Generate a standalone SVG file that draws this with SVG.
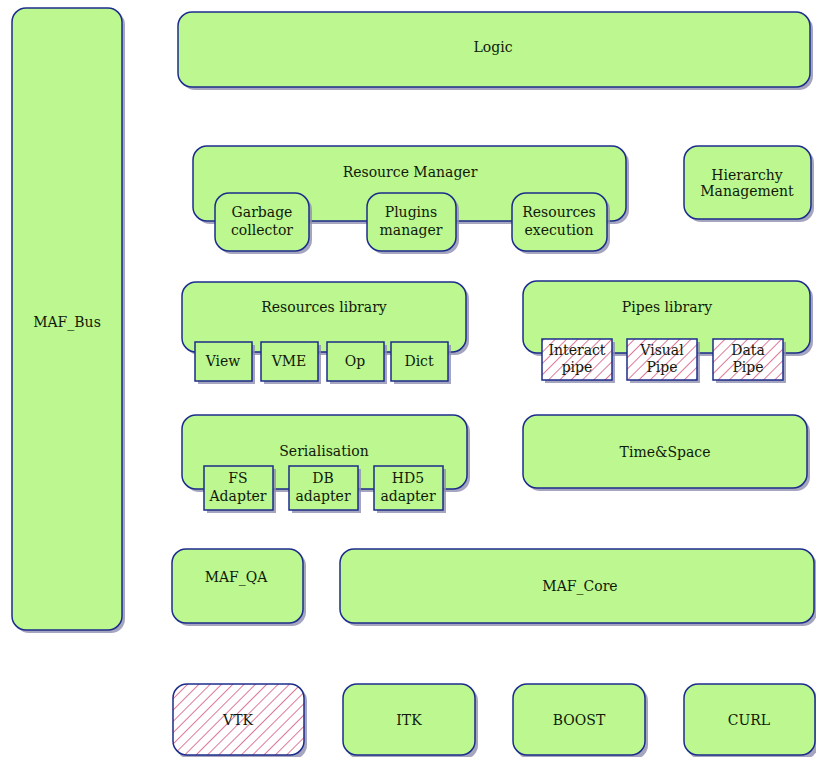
<svg xmlns="http://www.w3.org/2000/svg" width="816" height="757" viewBox="0 0 816 757">
  <defs>
    <pattern id="hatch" patternUnits="userSpaceOnUse" width="8" height="8" patternTransform="rotate(45)">
      <rect width="8" height="8" fill="#ffffff"/>
      <line x1="0" y1="0" x2="0" y2="8" stroke="#cc3060" stroke-width="1.3"/>
    </pattern>
    <style>
      .box { fill: #bcf78f; stroke: #1c2c8c; stroke-width: 1.5; }
      .hat { fill: url(#hatch); stroke: #1c2c8c; stroke-width: 1.5; }
      .sh { fill: #8f8faf; opacity: 0.8; }
      text { font-family: "DejaVu Serif", "Liberation Serif", serif; font-size: 14px; fill: #101a0a; text-anchor: middle; }
    </style>
  </defs>
  <rect width="816" height="757" fill="#ffffff"/>

  <g id="maf_bus">
    <rect class="sh" x="15" y="11" width="110" height="622" rx="14"/>
    <rect class="box" x="12" y="8" width="110" height="622" rx="14"/>
    <text x="67" y="327">MAF_Bus</text>
  </g>

  <g id="logic">
    <rect class="sh" x="181" y="15" width="632" height="75" rx="14"/>
    <rect class="box" x="178" y="12" width="632" height="75" rx="14"/>
    <text x="493" y="52">Logic</text>
  </g>

  <g id="resource_manager">
    <rect class="sh" x="196" y="149" width="433" height="75" rx="14"/>
    <rect class="box" x="193" y="146" width="433" height="75" rx="14"/>
    <text x="410" y="177">Resource Manager</text>
    <g id="garbage_collector">
      <rect class="sh" x="218" y="196" width="94" height="58" rx="14"/>
      <rect class="box" x="215" y="193" width="94" height="58" rx="14"/>
      <text x="262" y="217">Garbage</text>
      <text x="262" y="235">collector</text>
    </g>
    <g id="plugins_manager">
      <rect class="sh" x="370" y="196" width="89" height="58" rx="14"/>
      <rect class="box" x="367" y="193" width="89" height="58" rx="14"/>
      <text x="411" y="217">Plugins</text>
      <text x="411" y="235">manager</text>
    </g>
    <g id="resources_execution">
      <rect class="sh" x="515" y="196" width="95" height="58" rx="14"/>
      <rect class="box" x="512" y="193" width="95" height="58" rx="14"/>
      <text x="559" y="217">Resources</text>
      <text x="559" y="235">execution</text>
    </g>
  </g>

  <g id="hierarchy_management">
    <rect class="sh" x="687" y="149" width="127" height="73" rx="14"/>
    <rect class="box" x="684" y="146" width="127" height="73" rx="14"/>
    <text x="747" y="180">Hierarchy</text>
    <text x="747" y="196">Management</text>
  </g>

  <g id="resources_library">
    <rect class="sh" x="185" y="285" width="284" height="70" rx="14"/>
    <rect class="box" x="182" y="282" width="284" height="70" rx="14"/>
    <text x="324" y="312">Resources library</text>
    <g id="view">
      <rect class="sh" x="198" y="345" width="57" height="39"/>
      <rect class="box" x="195" y="342" width="57" height="39"/>
      <text x="223" y="366">View</text>
    </g>
    <g id="vme">
      <rect class="sh" x="264" y="345" width="57" height="39"/>
      <rect class="box" x="261" y="342" width="57" height="39"/>
      <text x="289" y="366">VME</text>
    </g>
    <g id="op">
      <rect class="sh" x="330" y="345" width="57" height="39"/>
      <rect class="box" x="327" y="342" width="57" height="39"/>
      <text x="355" y="366">Op</text>
    </g>
    <g id="dict">
      <rect class="sh" x="394" y="345" width="57" height="39"/>
      <rect class="box" x="391" y="342" width="57" height="39"/>
      <text x="419" y="366">Dict</text>
    </g>
  </g>

  <g id="pipes_library">
    <rect class="sh" x="526" y="284" width="287" height="72" rx="14"/>
    <rect class="box" x="523" y="281" width="287" height="72" rx="14"/>
    <text x="667" y="312">Pipes library</text>
    <g id="interact_pipe">
      <rect class="sh" x="545" y="342" width="70" height="41"/>
      <rect class="hat" x="542" y="339" width="70" height="41"/>
      <text x="577" y="355">Interact</text>
      <text x="577" y="372">pipe</text>
    </g>
    <g id="visual_pipe">
      <rect class="sh" x="630" y="342" width="70" height="41"/>
      <rect class="hat" x="627" y="339" width="70" height="41"/>
      <text x="662" y="355">Visual</text>
      <text x="662" y="372">Pipe</text>
    </g>
    <g id="data_pipe">
      <rect class="sh" x="716" y="342" width="70" height="41"/>
      <rect class="hat" x="713" y="339" width="70" height="41"/>
      <text x="748" y="355">Data</text>
      <text x="748" y="372">Pipe</text>
    </g>
  </g>

  <g id="serialisation">
    <rect class="sh" x="185" y="418" width="285" height="74" rx="14"/>
    <rect class="box" x="182" y="415" width="285" height="74" rx="14"/>
    <text x="324" y="456">Serialisation</text>
    <g id="fs_adapter">
      <rect class="sh" x="207" y="469" width="69" height="44"/>
      <rect class="box" x="204" y="466" width="69" height="44"/>
      <text x="238" y="483">FS</text>
      <text x="238" y="501">Adapter</text>
    </g>
    <g id="db_adapter">
      <rect class="sh" x="292" y="469" width="69" height="44"/>
      <rect class="box" x="289" y="466" width="69" height="44"/>
      <text x="323" y="483">DB</text>
      <text x="323" y="501">adapter</text>
    </g>
    <g id="hd5_adapter">
      <rect class="sh" x="377" y="469" width="69" height="44"/>
      <rect class="box" x="374" y="466" width="69" height="44"/>
      <text x="408" y="483">HD5</text>
      <text x="408" y="501">adapter</text>
    </g>
  </g>

  <g id="time_space">
    <rect class="sh" x="526" y="418" width="284" height="73" rx="14"/>
    <rect class="box" x="523" y="415" width="284" height="73" rx="14"/>
    <text x="665" y="457">Time&amp;Space</text>
  </g>

  <g id="maf_qa">
    <rect class="sh" x="175" y="552" width="131" height="74" rx="14"/>
    <rect class="box" x="172" y="549" width="131" height="74" rx="14"/>
    <text x="236" y="582">MAF_QA</text>
  </g>

  <g id="maf_core">
    <rect class="sh" x="343" y="552" width="474" height="74" rx="14"/>
    <rect class="box" x="340" y="549" width="474" height="74" rx="14"/>
    <text x="580" y="591">MAF_Core</text>
  </g>

  <g id="vtk">
    <rect class="sh" x="176" y="687" width="131" height="72" rx="14"/>
    <rect class="hat" x="173" y="684" width="131" height="71" rx="14"/>
    <text x="238" y="725">VTK</text>
  </g>
  <g id="itk">
    <rect class="sh" x="346" y="687" width="132" height="72" rx="14"/>
    <rect class="box" x="343" y="684" width="132" height="71" rx="14"/>
    <text x="409" y="725">ITK</text>
  </g>
  <g id="boost">
    <rect class="sh" x="516" y="687" width="132" height="72" rx="14"/>
    <rect class="box" x="513" y="684" width="132" height="71" rx="14"/>
    <text x="579" y="725">BOOST</text>
  </g>
  <g id="curl">
    <rect class="sh" x="687" y="687" width="131" height="72" rx="14"/>
    <rect class="box" x="684" y="684" width="131" height="71" rx="14"/>
    <text x="749" y="725">CURL</text>
  </g>
</svg>
